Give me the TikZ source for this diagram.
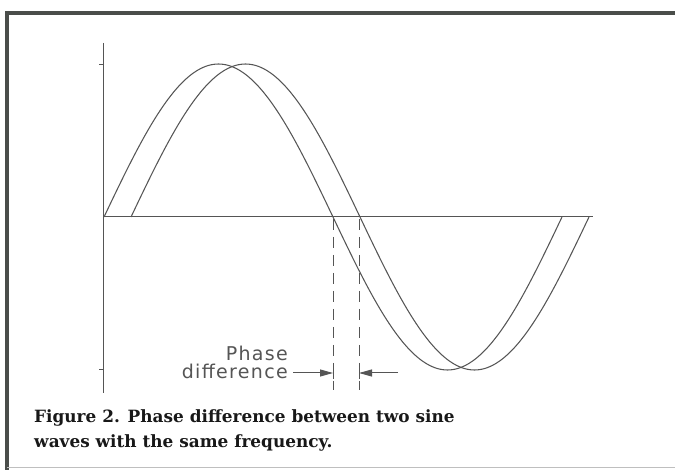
\documentclass[tikz,border=0pt]{standalone}
\usepackage{fontspec}
\setmainfont{DejaVu Serif}
\newfontfamily\labelfont[LetterSpace=7]{DejaVu Sans}
\usetikzlibrary{arrows.meta}
\definecolor{inkgray}{HTML}{555555}
\definecolor{framegray}{HTML}{4A4D4A}
\definecolor{capink}{HTML}{181818}
\tikzset{
  wave/.style={draw=inkgray, line width=1.05pt},
  axisline/.style={draw=inkgray, line width=1pt},
  dashline/.style={draw=inkgray, line width=0.9pt, dash pattern=on 11pt off 7pt},
  framebar/.style={draw=framegray},
  lbl/.style={inner sep=0pt, font=\labelfont\fontsize{19}{22}\selectfont, text=inkgray},
  captext/.style={inner sep=0pt, anchor=base west, font=\bfseries\fontsize{16.9}{20}\selectfont, text=capink},
  ptr/.style={draw=inkgray, line width=1pt, -{Triangle[length=13pt,width=7pt]}},
}
\begin{document}
\begin{tikzpicture}[x=1pt,y=-1pt]
\useasboundingbox[fill=white] (0,0) rectangle (675,470);
% frame
\draw[framebar, line width=4pt] (5,13) -- (675,13);
\draw[framebar, line width=4.5pt] (7,11) -- (7,470);
\draw[draw=gray!50, line width=1pt] (7,467) -- (675,467);
% axes
\coordinate (ytop) at (103,43);
\coordinate (ybot) at (103,393);
\coordinate (o) at (103,217);
\coordinate (xend) at (593,217);
\draw[axisline] (ytop) -- (ybot);
\draw[axisline] (o) -- (xend);
\draw[axisline] (99,65) -- (103,65);
\draw[axisline] (99,370) -- (103,370);
% waves
\draw[wave] plot[domain=104:562, samples=181, smooth] (\x, {217 - 153*sin(0.786026*(\x-104))});
\draw[wave] plot[domain=131:589, samples=181, smooth] (\x, {217 - 153*sin(0.786026*(\x-131))});
% dashed lines
\coordinate (d1t) at (333,219);
\coordinate (d1b) at (333,390);
\coordinate (d2t) at (359,219);
\coordinate (d2b) at (359,390);
\draw[dashline] (d1t) -- (d1b);
\draw[dashline] (d2t) -- (d2b);
% bars at arrow tips
\draw[axisline] (333,367) -- (333,379);
\draw[axisline] (359,367) -- (359,379);
% label
\node[lbl, anchor=base east] (ph) at (288,361) {Phase};
\node[lbl, anchor=base east] (df) at (288,379) {difference};
\coordinate (a1s) at (293,373);
\coordinate (a1e) at (333,373);
\coordinate (a2s) at (398,373);
\coordinate (a2e) at (359,373);
\draw[ptr] (a1s) -- (a1e);
\draw[ptr] (a2s) -- (a2e);
% caption
\node[captext] (cap1) at (34,422) {Figure 2. Phase difference between two sine};
\node[captext] (cap2) at (34,447) {waves with the same frequency.};
\end{tikzpicture}
\end{document}
